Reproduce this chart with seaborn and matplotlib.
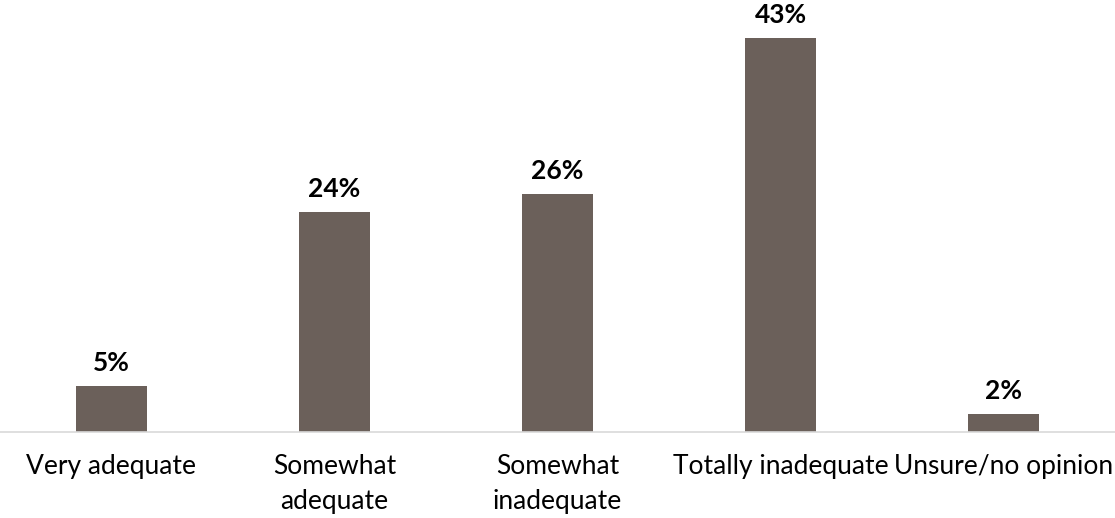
import matplotlib
matplotlib.use("Agg")
import matplotlib.pyplot as plt
import seaborn as sns
import pandas as pd

categories = ["Very adequate", "Somewhat\nadequate", "Somewhat\ninadequate",
              "Totally inadequate", "Unsure/no opinion"]
values = [5, 24, 26, 43, 2]
value_labels = ["5%", "24%", "26%", "43%", "2%"]

sns.set_style("white")
plt.rcParams['font.family'] = ['Lato', 'DejaVu Sans']

df = pd.DataFrame({"cat": categories, "val": values})

fig = plt.figure(figsize=(11.15, 5.18), dpi=100)
ax = fig.add_axes([0, 86/518, 1, 432/518])
sns.barplot(data=df, x="cat", y="val", color="#6b605a", saturation=1,
            width=0.315, linewidth=0, ax=ax)
ax.set_xlim(-0.5, 4.5)
ax.set_ylim(0, 432/9.16)
for i, (v, lab) in enumerate(zip(values, value_labels)):
    ax.text(i, v + 1.2, lab, ha="center", va="bottom", fontsize=19,
            fontweight="bold", color="#000000")
for s in ["top", "right", "left"]:
    ax.spines[s].set_visible(False)
ax.spines["bottom"].set_color("#d9d9d9")
ax.spines["bottom"].set_linewidth(1.2)
ax.set_yticks([])
ax.set_xlabel("")
ax.set_ylabel("")
ax.tick_params(axis="x", length=0, pad=16, labelsize=19, colors="#000000")
for t in ax.get_xticklabels():
    t.set_linespacing(1.5)
    t.set_verticalalignment("top")
fig.savefig("out.png", dpi=100)
